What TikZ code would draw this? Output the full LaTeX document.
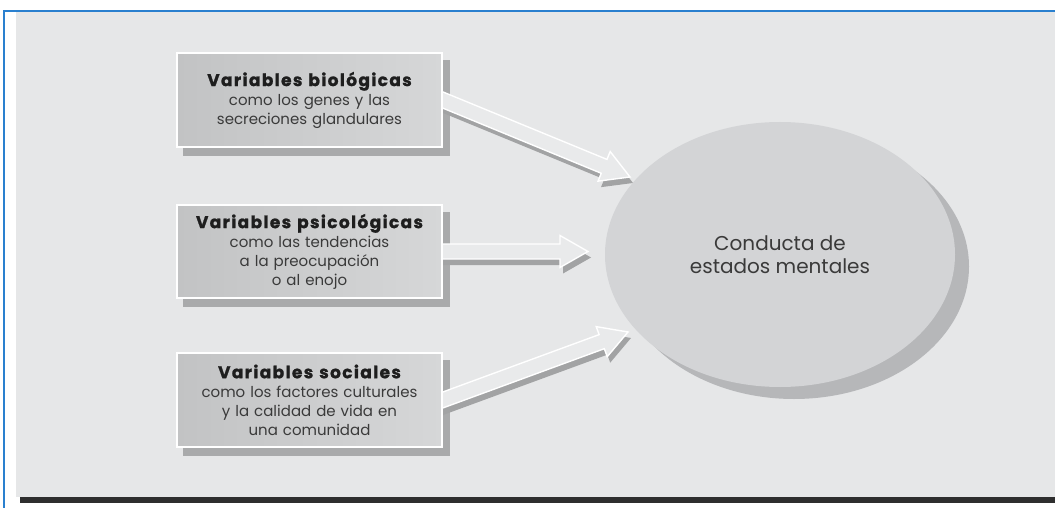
\documentclass[tikz,border=0pt]{standalone}
\usepackage{fontspec}
\setmainfont{Poppins}
\newfontfamily\ttlfont{Poppins}[LetterSpace=8,BoldFeatures={FakeBold=1.2}]
\usetikzlibrary{calc,shapes.geometric}
\definecolor{bgc}{HTML}{E6E7E8}
\definecolor{framec}{HTML}{2A80CF}
\definecolor{boxl}{HTML}{C2C3C4}
\definecolor{boxr}{HTML}{D6D7D8}
\definecolor{shadc}{HTML}{A9AAAB}
\definecolor{circc}{HTML}{D3D4D6}
\definecolor{circs}{HTML}{B6B7B9}
\definecolor{arrc}{HTML}{E9EAEB}
\definecolor{arrs}{HTML}{A2A3A4}
\definecolor{txtc}{HTML}{3A3A3A}
\definecolor{ttlc}{HTML}{1E1E1E}
\pgfdeclarelayer{back}
\pgfdeclarelayer{mid}
\pgfsetlayers{back,mid,main}
\newcommand{\hollowarrow}[3][]{%
  \coordinate (hs) at ($(#2)!-12pt!(#3)$);
  \path[#1] ($(hs)!7.5pt!90:(#3)$)
    -- ($(#3)!28pt!(hs)!7.5pt!-90:(hs)$)
    -- ($(#3)!28pt!(hs)!16pt!-90:(hs)$)
    -- (#3)
    -- ($(#3)!28pt!(hs)!16pt!90:(hs)$)
    -- ($(#3)!28pt!(hs)!7.5pt!90:(hs)$)
    -- ($(hs)!7.5pt!-90:(#3)$) -- cycle;}
\tikzset{
  varbox/.style={draw=white, line width=1.6pt, left color=boxl, right color=boxr,
    minimum width=265pt, text width=258pt, align=center, inner sep=0pt,
    text=txtc, font=\fontsize{15}{19}\selectfont},
  arrbody/.style={fill=arrc, draw=white, line width=1.4pt, line join=miter},
  arrshadow/.style={fill=arrs},
}
\newcommand{\ttl}[2]{{\ttlfont\fontsize{17}{19}\selectfont\bfseries\color{ttlc}#1\hspace{6pt}#2}}
\begin{document}
\begin{tikzpicture}[x=1pt,y=-1pt]
\useasboundingbox (0,0) rectangle (1055,508);
% nodes
\node[varbox, minimum height=94pt] (bio) at (309.5,100)
  {\ttl{Variables}{biológicas}\\como los genes y las\\secreciones glandulares};
\node[varbox, minimum height=93pt] (psi) at (309.5,251.5)
  {\ttl{Variables}{psicológicas}\\como las tendencias\\a la preocupación\\o al enojo};
\node[varbox, minimum height=94pt] (soc) at (309.5,400)
  {\ttl{Variables}{sociales}\\como los factores culturales\\y la calidad de vida en\\una comunidad};
\node[ellipse, fill=circc, minimum width=350pt, minimum height=265pt, inner sep=0pt,
  align=center, text=txtc, font=\fontsize{20}{23}\selectfont] (cm) at (780,254.5)
  {Conducta de\\estados mentales};
\coordinate (t1) at (630,177);
\coordinate (t2) at (588,251.5);
\coordinate (t3) at (628,332);
\begin{pgfonlayer}{back}
  \fill[white] (0,0) rectangle (1055,508);
  \fill[bgc] (16,12) rectangle (1055,497);
  \fill[black!82] (20,497) rectangle (1055,503);
  \draw[framec, line width=1.8pt] (4,508) -- (4,11) -- (1055,11);
  \foreach \b in {bio,psi,soc}
    \fill[shadc] ([shift={(7pt,-8pt)}]\b.south west) rectangle ([shift={(7pt,-8pt)}]\b.north east);
  \fill[circs] ([shift={(14pt,-12pt)}]cm.center) ellipse [x radius=175pt, y radius=132.5pt];
\end{pgfonlayer}
\begin{pgfonlayer}{mid}
  \begin{scope}[transform canvas={shift={(3pt,-6pt)}}]
    \hollowarrow[arrshadow]{bio.east}{t1}
    \hollowarrow[arrshadow]{psi.east}{t2}
    \hollowarrow[arrshadow]{soc.east}{t3}
  \end{scope}
  \hollowarrow[arrbody]{bio.east}{t1}
  \hollowarrow[arrbody]{psi.east}{t2}
  \hollowarrow[arrbody]{soc.east}{t3}
\end{pgfonlayer}
\end{tikzpicture}
\end{document}
